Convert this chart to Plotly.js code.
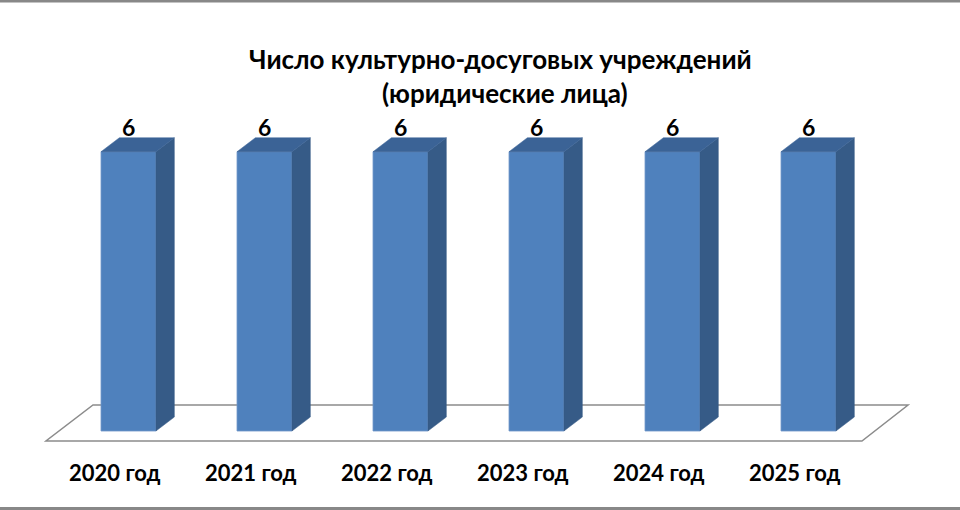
<!DOCTYPE html>
<html><head><meta charset="utf-8">
<script src="https://cdn.plot.ly/plotly-3.0.1.min.js"></script>
<style>html,body{margin:0;padding:0;background:#fff;}#chart{width:960px;height:510px;}</style>
</head><body><div id="chart"></div>
<script>
const categories = ["2020 год","2021 год","2022 год","2023 год","2024 год","2025 год"];
const values = [6,6,6,6,6,6];
const titleLines = ["Число культурно-досуговых учреждений","(юридические лица)"];

// 3D styling (in axis units)
const W = 0.404, DX = 0.135, DY = 0.30;
const FONT = "Lato, 'Open Sans', sans-serif";
const xs = categories.map((c,i)=>i);

const traces = [];
// front faces
traces.push({type:'bar', x:xs, y:values, width:W, marker:{color:'#4F81BD', line:{color:'#6f96c8',width:0.8}},
  hoverinfo:'skip', showlegend:false});
// side and top faces
xs.forEach((x,i)=>{
  const v = values[i];
  const r = x + W/2, l = x - W/2;
  traces.push({x:[r, r+DX, r+DX, r, r], y:[0, DY, v+DY, v, 0], mode:'lines', fill:'toself',
    fillcolor:'#365B87', line:{color:'#365B87',width:0.5}, hoverinfo:'skip', showlegend:false});
  traces.push({x:[l, r, r+DX, l+DX, l], y:[v, v, v+DY, v+DY, v], mode:'lines', fill:'toself',
    fillcolor:'#3B6396', line:{color:'#3B6396',width:0.5}, hoverinfo:'skip', showlegend:false});
});

const annotations = [];
xs.forEach((x,i)=>{
  annotations.push({x:x, y:values[i], yshift:25, text:'<b>'+String(values[i])+'</b>', showarrow:false,
    font:{family:FONT, size:23, color:'#000'}, xanchor:'center', yanchor:'middle'});
  annotations.push({x:x-0.1, y:-0.902, text:'<b>'+categories[i]+'</b>', showarrow:false,
    font:{family:FONT, size:22, color:'#000'}, xanchor:'center', yanchor:'middle'});
});
annotations.push({xref:'paper', yref:'paper', x:500/960, y:1-59/510, text:'<b>'+titleLines[0]+'</b>',
  showarrow:false, font:{family:FONT, size:26, color:'#000'}, xanchor:'center', yanchor:'middle'});
annotations.push({xref:'paper', yref:'paper', x:505/960, y:1-93/510, text:'<b>'+titleLines[1]+'</b>',
  showarrow:false, font:{family:FONT, size:26, color:'#000'}, xanchor:'center', yanchor:'middle'});

const layout = {
  width:960, height:510, margin:{l:0,r:0,t:0,b:0},
  paper_bgcolor:'#fff', plot_bgcolor:'#fff',
  xaxis:{range:[-0.9449,6.1140], visible:false, fixedrange:true},
  yaxis:{range:[-1.697,9.259], visible:false, fixedrange:true},
  annotations:annotations,
  shapes:[
    {type:'path', xref:'x', yref:'y', layer:'below',
     path:'M -0.607 -0.215 L 5.393 -0.215 L 5.732 0.559 L -0.261 0.559 Z',
     fillcolor:'#ffffff', line:{color:'#8c8c8c', width:1.5}},
    {type:'rect', xref:'paper', yref:'paper', x0:0, x1:1, y0:1, y1:1-2.5/510, fillcolor:'#888', line:{width:0}},
    {type:'rect', xref:'paper', yref:'paper', x0:0, x1:1, y0:0, y1:3/510, fillcolor:'#888', line:{width:0}}
  ],
  showlegend:false
};
Plotly.newPlot('chart', traces, layout, {staticPlot:true, displayModeBar:false});
</script></body></html>
